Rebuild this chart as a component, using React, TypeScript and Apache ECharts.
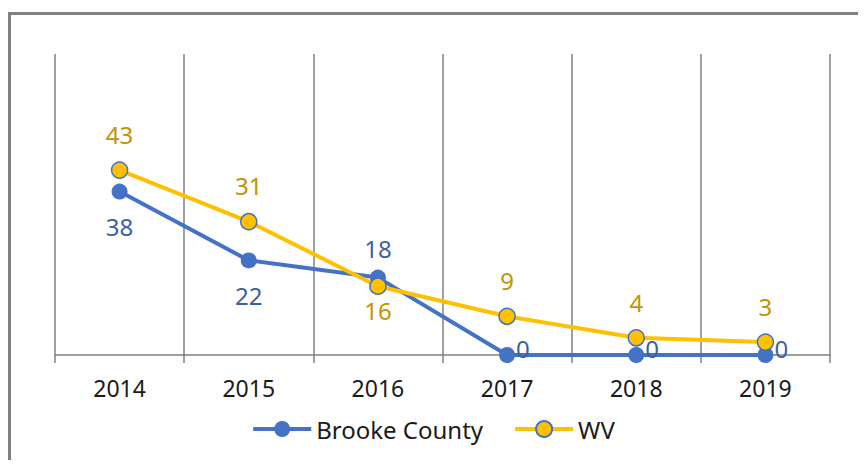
import React, { useEffect, useRef } from "react";
import * as echarts from "echarts";

const years = ["2014", "2015", "2016", "2017", "2018", "2019"];
const brooke = [38, 22, 18, 0, 0, 0];
const wv = [43, 31, 16, 9, 4, 3];
const brookeLabelPos = ["bottom", "bottom", "top", "right", "right", "right"];
const wvLabelPos = ["top", "top", "bottom", "top", "top", "top"];
const brookeLabelDist = [15, 15, 9, 1, 1, 1];
const wvLabelDist = [15, 15, 4, 15, 15, 15];

const FONT = "'Noto Sans', 'Open Sans', sans-serif";

export default function App() {
  const ref = useRef<HTMLDivElement>(null);
  useEffect(() => {
    if (!ref.current) return;
    const chart = echarts.init(ref.current, null, { renderer: "svg" });
    const blueLabel = (i: number) => ({
      show: true,
      position: brookeLabelPos[i],
      distance: brookeLabelDist[i],
      offset: brookeLabelPos[i] === "right" ? [0, -7] : [0, 0],
      color: "#3B5FA8",
      fontSize: 24,
      fontFamily: FONT,
    });
    const wvLabel = (i: number) => ({
      show: true,
      position: wvLabelPos[i],
      distance: wvLabelDist[i],
      color: "#C39300",
      fontSize: 24,
      fontFamily: FONT,
    });
    chart.setOption({
      animation: false,
      backgroundColor: "#ffffff",
      graphic: [
        {
          type: "rect",
          shape: { x: 1.5, y: 5.5, width: 900, height: 500 },
          style: { fill: "none", stroke: "#808080", lineWidth: 3 },
          z: -1,
        },
      ],
      grid: { left: 47, right: 28, top: 46, bottom: 105 },
      xAxis: {
        type: "category",
        data: years,
        boundaryGap: true,
        axisLine: { show: true, lineStyle: { color: "#808080", width: 1.5 } },
        axisTick: { show: true, length: 8, lineStyle: { color: "#808080", width: 1.5 } },
        splitLine: { show: true, lineStyle: { color: "#808080", width: 1.5 } },
        axisLabel: {
          color: "#1a1a1a",
          fontSize: 23,
          fontFamily: FONT,
          margin: 21,
        },
      },
      yAxis: {
        type: "value",
        min: 0,
        max: 70,
        show: false,
        splitLine: { show: false },
      },
      legend: {
        bottom: 14,
        left: "center",
        itemWidth: 58,
        itemHeight: 20,
        itemGap: 30,
        lineStyle: { width: 4 },
        textStyle: { fontSize: 24, fontFamily: FONT, color: "#1a1a1a" },
        data: ["Brooke County", "WV"],
      },
      series: [
        {
          name: "Brooke County",
          type: "line",
          data: brooke.map((v, i) => ({ value: v, label: blueLabel(i) })),
          symbol: "circle",
          symbolSize: 16,
          lineStyle: { color: "#4472C4", width: 4 },
          itemStyle: { color: "#4472C4" },
          z: 2,
        },
        {
          name: "WV",
          type: "line",
          data: wv.map((v, i) => ({ value: v, label: wvLabel(i) })),
          symbol: "circle",
          symbolSize: 16,
          lineStyle: { color: "#FFC000", width: 4 },
          itemStyle: { color: "#FFC000", borderColor: "#4472C4", borderWidth: 1.5 },
          z: 3,
        },
      ],
    });
    return () => chart.dispose();
  }, []);
  return <div ref={ref} style={{ width: 850, height: 452 }} />;
}
